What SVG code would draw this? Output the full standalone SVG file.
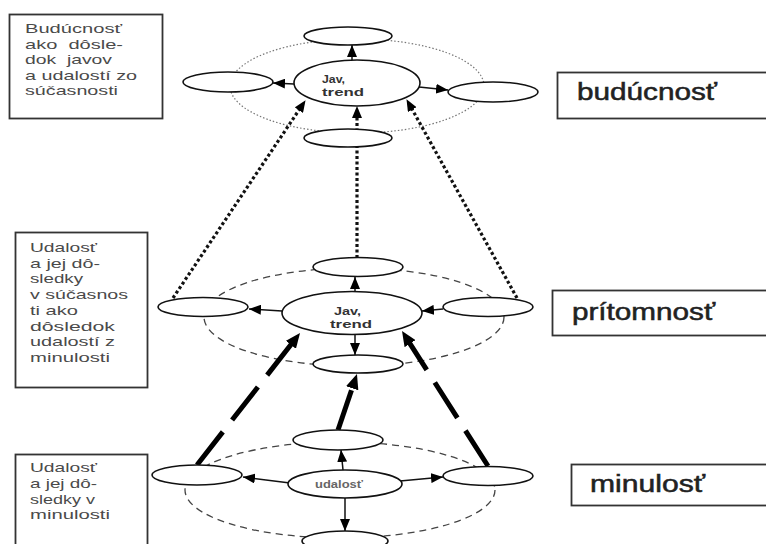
<svg xmlns="http://www.w3.org/2000/svg" width="766" height="544" viewBox="0 0 766 544">
<style>
.bg{fill:#fff}
.box{fill:#fff;stroke:#333;stroke-width:1.8}
.el{fill:#fff;stroke:#111;stroke-width:1.6}
.dotring{fill:none;stroke:#777;stroke-width:1.2;stroke-dasharray:1.5 2}
.dashring{fill:none;stroke:#444;stroke-width:1.3;stroke-dasharray:7 5}
.thin{fill:none;stroke:#111;stroke-width:1.5;marker-end:url(#ah)}
.dot{fill:none;stroke:#111;stroke-width:3.2;stroke-dasharray:3 2.5;marker-end:url(#ahd)}
.thick{fill:none;stroke:#000;stroke-width:5;stroke-dasharray:42 15;marker-end:url(#aht)}
.note{font-family:"Liberation Sans",Arial,sans-serif;font-size:13px;fill:#4a4a4a}
.lbl{font-family:"Liberation Sans",Arial,sans-serif;font-size:23px;fill:#222;stroke:#222;stroke-width:0.5}
.ctr{font-family:"Liberation Sans",Arial,sans-serif;font-size:11.5px;font-weight:bold;fill:#333}
</style>
<defs>
<marker id="ah" markerUnits="userSpaceOnUse" markerWidth="12" markerHeight="10" refX="12" refY="5" orient="auto"><path d="M0,0 L12,5 L0,10 z" fill="#000"/></marker>
<marker id="ahd" markerUnits="userSpaceOnUse" markerWidth="12" markerHeight="10" refX="6" refY="5" orient="auto"><path d="M0,0 L12,5 L0,10 z" fill="#000"/></marker>
<marker id="aht" markerUnits="userSpaceOnUse" markerWidth="15" markerHeight="13" refX="7" refY="6.5" orient="auto"><path d="M0,0 L15,6.5 L0,13 z" fill="#000"/></marker>
</defs>
<rect class="bg" x="0" y="0" width="766" height="544"/>

<!-- background rings -->
<g id="rings">
<ellipse class="dotring" cx="357" cy="86" rx="127" ry="47"/>
<ellipse class="dashring" cx="354" cy="317" rx="150" ry="49"/>
<ellipse class="dashring" cx="340" cy="490" rx="155" ry="48"/>
</g>

<!-- connectors -->
<g id="connectors">
<line class="dot" x1="173" y1="298" x2="302.2" y2="105.2"/>
<line class="dot" x1="357" y1="258" x2="357" y2="112"/>
<line class="dot" x1="517" y1="298" x2="409.4" y2="104.4"/>
<line class="thick" x1="197" y1="465" x2="295.1" y2="339.3"/>
<line class="thick" x1="338" y1="430" x2="354.4" y2="381.6"/>
<line class="thick" x1="488" y1="466" x2="406.3" y2="337.8"/>
<!-- future -->
<line class="thin" x1="352" y1="60" x2="352" y2="45"/>
<line class="thin" x1="294" y1="84" x2="273" y2="83"/>
<line class="thin" x1="419" y1="87" x2="448" y2="90"/>
<!-- present -->
<line class="thin" x1="355" y1="292" x2="355" y2="277"/>
<line class="thin" x1="282" y1="311" x2="249" y2="309"/>
<line class="thin" x1="443" y1="309" x2="422" y2="311"/>
<line class="thin" x1="355" y1="334" x2="355" y2="355"/>
<!-- past -->
<line class="thin" x1="343" y1="470" x2="341" y2="450"/>
<line class="thin" x1="290" y1="483" x2="243" y2="477"/>
<line class="thin" x1="400" y1="481" x2="443" y2="477"/>
<line class="thin" x1="345" y1="498" x2="345" y2="531"/>
</g>

<!-- future layer nodes -->
<g id="f-top"><ellipse class="el" cx="348" cy="36" rx="44" ry="9"/></g>
<g id="f-center"><ellipse class="el" cx="357" cy="83" rx="63" ry="23"/>
<text class="ctr" x="322" y="83" textLength="23" lengthAdjust="spacingAndGlyphs">Jav,</text>
<text class="ctr" x="322" y="95.5" textLength="42" lengthAdjust="spacingAndGlyphs">trend</text></g>
<g id="f-left"><ellipse class="el" cx="228" cy="82" rx="45" ry="10"/></g>
<g id="f-right"><ellipse class="el" cx="493" cy="92" rx="45" ry="10"/></g>
<g id="f-bottom"><ellipse class="el" cx="348" cy="138" rx="44" ry="9"/></g>

<!-- present layer nodes -->
<g id="p-top"><ellipse class="el" cx="358" cy="267" rx="45" ry="9.5"/></g>
<g id="p-center"><ellipse class="el" cx="352" cy="313" rx="70" ry="21.5"/>
<text class="ctr" x="334" y="315" textLength="27" lengthAdjust="spacingAndGlyphs">Jav,</text>
<text class="ctr" x="330" y="327.5" textLength="42" lengthAdjust="spacingAndGlyphs">trend</text></g>
<g id="p-left"><ellipse class="el" cx="203" cy="307" rx="45" ry="9.5"/></g>
<g id="p-right"><ellipse class="el" cx="488" cy="307" rx="45" ry="9.5"/></g>
<g id="p-bottom"><ellipse class="el" cx="358" cy="364" rx="45" ry="9"/></g>

<!-- past layer nodes -->
<g id="m-top"><ellipse class="el" cx="338" cy="440" rx="45" ry="10"/></g>
<g id="m-center"><ellipse class="el" cx="345" cy="484" rx="57" ry="14"/>
<text class="ctr" x="315" y="488" font-size="10.5" textLength="48" lengthAdjust="spacingAndGlyphs" style="fill:#666">udalosť</text></g>
<g id="m-left"><ellipse class="el" cx="197" cy="475" rx="45" ry="10"/></g>
<g id="m-right"><ellipse class="el" cx="488" cy="476" rx="45" ry="9.5"/></g>
<g id="m-bottom"><ellipse class="el" cx="345" cy="541" rx="43" ry="10"/></g>

<!-- left notes -->
<g id="note-future">
<rect class="box" x="9.5" y="14.5" width="153" height="104"/>
<text class="note" x="25" y="33" textLength="97" lengthAdjust="spacingAndGlyphs">Budúcnosť</text>
<text class="note" x="25" y="48.5" textLength="98" lengthAdjust="spacingAndGlyphs" xml:space="preserve">ako  dôsle-</text>
<text class="note" x="25" y="64" textLength="87" lengthAdjust="spacingAndGlyphs" xml:space="preserve">dok  javov</text>
<text class="note" x="25" y="79.5" textLength="112" lengthAdjust="spacingAndGlyphs">a udalostí zo</text>
<text class="note" x="25" y="95" textLength="93" lengthAdjust="spacingAndGlyphs">súčasnosti</text>
</g>
<g id="note-present">
<rect class="box" x="15.5" y="232.5" width="132" height="155"/>
<text class="note" x="30" y="252" textLength="67" lengthAdjust="spacingAndGlyphs">Udalosť</text>
<text class="note" x="30" y="267.7" textLength="70" lengthAdjust="spacingAndGlyphs">a jej dô-</text>
<text class="note" x="30" y="283.4" textLength="53" lengthAdjust="spacingAndGlyphs">sledky</text>
<text class="note" x="30" y="299" textLength="98" lengthAdjust="spacingAndGlyphs">v súčasnos</text>
<text class="note" x="30" y="314.8" textLength="48" lengthAdjust="spacingAndGlyphs">ti ako</text>
<text class="note" x="30" y="330.5" textLength="85" lengthAdjust="spacingAndGlyphs">dôsledok</text>
<text class="note" x="30" y="346" textLength="85" lengthAdjust="spacingAndGlyphs">udalostí z</text>
<text class="note" x="30" y="362" textLength="80" lengthAdjust="spacingAndGlyphs">minulosti</text>
</g>
<g id="note-past">
<rect class="box" x="15.5" y="454.5" width="132" height="100"/>
<text class="note" x="30" y="472" textLength="67" lengthAdjust="spacingAndGlyphs">Udalosť</text>
<text class="note" x="30" y="488" textLength="67" lengthAdjust="spacingAndGlyphs">a jej dô-</text>
<text class="note" x="30" y="503.5" textLength="65" lengthAdjust="spacingAndGlyphs">sledky v</text>
<text class="note" x="30" y="519" textLength="80" lengthAdjust="spacingAndGlyphs">minulosti</text>
</g>

<!-- right labels -->
<g id="label-future">
<rect class="box" x="557.5" y="72.5" width="230" height="46"/>
<text class="lbl" x="577" y="100" textLength="140" lengthAdjust="spacingAndGlyphs">budúcnosť</text>
</g>
<g id="label-present">
<rect class="box" x="552.5" y="290.5" width="235" height="45"/>
<text class="lbl" x="572" y="320" textLength="143" lengthAdjust="spacingAndGlyphs">prítomnosť</text>
</g>
<g id="label-past">
<rect class="box" x="571.5" y="464.5" width="216" height="41"/>
<text class="lbl" x="590" y="492" textLength="115" lengthAdjust="spacingAndGlyphs">minulosť</text>
</g>
</svg>
